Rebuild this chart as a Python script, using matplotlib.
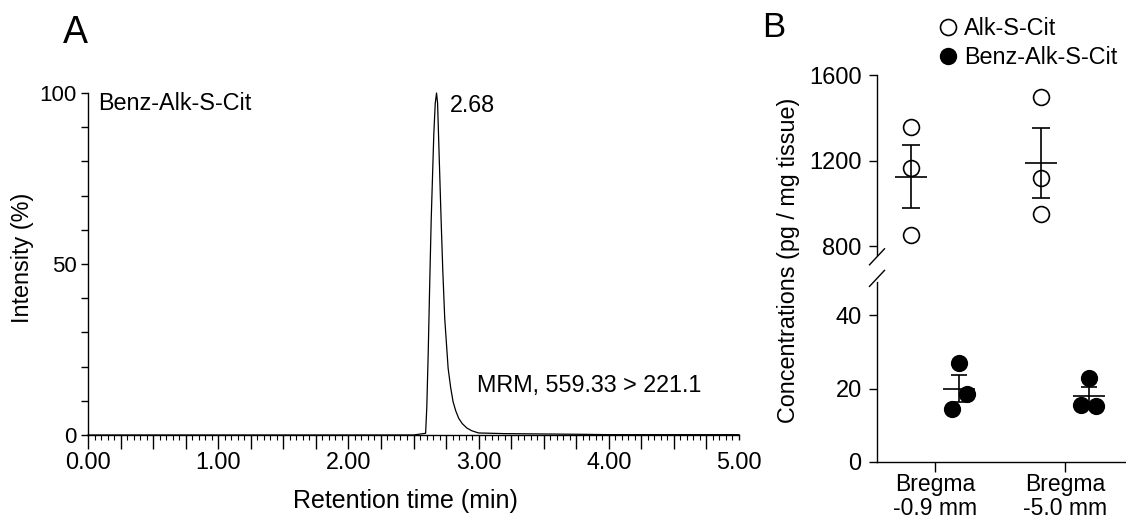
import numpy as np
import matplotlib
matplotlib.use('Agg')
import matplotlib.pyplot as plt
from matplotlib.ticker import FixedLocator, MultipleLocator, FuncFormatter
from matplotlib.lines import Line2D

plt.rcParams['font.family'] = ['Liberation Sans', 'DejaVu Sans']

# ---------------- Panel A data (chromatogram) ----------------
rt_min = [0.00, 2.50, 2.593, 2.602, 2.613, 2.625, 2.636, 2.656, 2.667, 2.677,
          2.685, 2.692, 2.700, 2.712, 2.725, 2.740, 2.766, 2.785, 2.804, 2.825,
          2.847, 2.875, 2.911, 2.950, 3.00, 3.20, 3.50, 3.80, 4.00, 5.00]
intensity_pct = [0, 0, 0.5, 8, 24, 45, 63, 88, 97, 100,
                 97, 88, 78, 63, 48, 34, 19.5, 14, 9.7, 7,
                 4.9, 3.3, 2.0, 1.2, 0.6, 0.4, 0.3, 0.2, 0.1, 0.1]
compound_a = 'Benz-Alk-S-Cit'
peak_label = '2.68'
mrm_label = 'MRM, 559.33 > 221.1'
x_label_a = 'Retention time (min)'
y_label_a = 'Intensity (%)'
y_ticks_a = [0, 50, 100]

# ---------------- Panel B data ----------------
groups = ['Bregma\n-0.9 mm', 'Bregma\n-5.0 mm']
series_names = ['Alk-S-Cit', 'Benz-Alk-S-Cit']
alk_s_cit = [[1357, 1165, 852], [1497, 1118, 950]]
benz_alk_s_cit = [[26.9, 14.4, 18.4], [22.9, 15.4, 15.3]]
upper_ticks = [800, 1200, 1600]
lower_ticks = [0, 20, 40]
y_label_b = 'Concentrations (pg / mg tissue)'

# ---------------- styling ----------------
W, H = 1126, 522
fig = plt.figure(figsize=(W / 100, H / 100), dpi=100)


def px(l, t, r, b):
    return [l / W, 1 - b / H, (r - l) / W, (b - t) / H]


LW = 1.0
TXT = 16.8

# ---------------- Panel A ----------------
axA = fig.add_axes(px(88, 93, 739, 435))
axA.plot(rt_min, intensity_pct, color='black', lw=0.9, clip_on=False, zorder=3)
axA.set_xlim(0, 5)
axA.set_ylim(0, 100)
for s in ['top', 'right']:
    axA.spines[s].set_visible(False)
for s in ['left', 'bottom']:
    axA.spines[s].set_linewidth(LW)

major_x = np.arange(0, 5.001, 0.25)
axA.xaxis.set_major_locator(FixedLocator(major_x))
axA.xaxis.set_minor_locator(MultipleLocator(0.05))
axA.xaxis.set_major_formatter(FuncFormatter(
    lambda v, p: f'{v:.2f}' if abs(v - round(v)) < 1e-6 else ''))
axA.tick_params(axis='x', which='major', length=10, width=LW, pad=1.5,
                labelsize=16.8, direction='out')
axA.tick_params(axis='x', which='minor', length=3.8, width=0.8, direction='out')
xt = axA.xaxis.get_major_ticks()
xt[-1].tick1line.set_markersize(3.8)

axA.yaxis.set_major_locator(FixedLocator(y_ticks_a))
axA.yaxis.set_minor_locator(MultipleLocator(10))
axA.tick_params(axis='y', which='both', length=5, width=LW, direction='out')
axA.tick_params(axis='y', which='major', labelsize=16, pad=3)

axA.text(0.076, 95.0, compound_a, fontsize=TXT, va='baseline', ha='left')
axA.text(2.78, 94.5, peak_label, fontsize=TXT, va='baseline', ha='left')
axA.text(2.985, 12.6, mrm_label, fontsize=TXT, va='baseline', ha='left')

fig.text(405 / W, 1 - 501 / H, x_label_a, fontsize=18, ha='center', va='center')
fig.text(22 / W, 1 - 258 / H, y_label_a, fontsize=16.8, ha='center', va='center',
         rotation=90)

fig.text(63 / W, 1 - 43 / H, 'A', fontsize=27, ha='left', va='baseline')
fig.text(762 / W, 1 - 37 / H, 'B', fontsize=25, ha='left', va='baseline')

# ---------------- Panel B ----------------
axU = fig.add_axes(px(877, 75, 1126, 255))
axL = fig.add_axes(px(877, 282, 1126, 462))
xlim_b = (-0.446, 1.469)
off = 0.185
jit_lower = [[0, -0.054, 0.062], [0, -0.062, 0.054]]
half_mean = 0.123

for ax in (axU, axL):
    ax.set_xlim(*xlim_b)
    for s in ['top', 'right']:
        ax.spines[s].set_visible(False)
    ax.spines['left'].set_linewidth(LW)
    ax.spines['bottom'].set_linewidth(LW)
    ax.tick_params(axis='y', length=6, width=LW, labelsize=17, pad=5)

axU.spines['bottom'].set_visible(False)
axU.set_xticks([])
axU.set_ylim(758, 1600)
axU.set_yticks(upper_ticks)
axU.set_yticklabels([str(t) for t in upper_ticks])

axL.set_ylim(0, 49)
axL.set_yticks(lower_ticks)
axL.set_yticklabels([str(t) for t in lower_ticks])
axL.set_xticks(range(len(groups)))
axL.set_xticklabels(groups)
axL.tick_params(axis='x', length=7, width=LW, labelsize=16.5, pad=1)
for lbl in axL.get_xticklabels():
    lbl.set_linespacing(1.05)

for i, vals in enumerate(alk_s_cit):
    x = i - off
    v = np.array(vals, dtype=float)
    m = v.mean()
    se = v.std(ddof=1) / np.sqrt(len(v))
    axU.scatter([x] * len(v), v, s=130, facecolors='white', edgecolors='black',
                linewidths=1.2, zorder=2, clip_on=False)
    axU.errorbar(x, m, yerr=se, fmt='none', ecolor='black', elinewidth=1.2,
                 capsize=6.5, capthick=1.2, zorder=3)
    axU.hlines(m, x - half_mean, x + half_mean, color='black', lw=1.2, zorder=3)

for i, vals in enumerate(benz_alk_s_cit):
    x = i + off
    v = np.array(vals, dtype=float)
    m = v.mean()
    se = v.std(ddof=1) / np.sqrt(len(v))
    axL.scatter(x + np.array(jit_lower[i]), v, s=130, facecolors='black',
                edgecolors='black', linewidths=1.0, zorder=2, clip_on=False)
    axL.errorbar(x, m, yerr=se, fmt='none', ecolor='black', elinewidth=1.2,
                 capsize=6, capthick=1.2, zorder=3)
    axL.hlines(m, x - half_mean, x + half_mean, color='black', lw=1.2, zorder=3)

# axis break marks
dx, dy = 7.5 / 249, 8 / 180
axU.plot([-dx, dx], [-dy - 0.01, dy - 0.01], transform=axU.transAxes, color='black',
         lw=LW, clip_on=False)
axL.plot([-dx, dx], [1 + 0.02 - dy, 1 + 0.02 + dy], transform=axL.transAxes,
         color='black', lw=LW, clip_on=False)

fig.text(789 / W, 1 - 260 / H, y_label_b, fontsize=16.8, ha='center', va='center',
         rotation=90)

handles = [Line2D([], [], marker='o', ls='none', mfc='white', mec='black', ms=11.5,
                  mew=1.2),
           Line2D([], [], marker='o', ls='none', mfc='black', mec='black', ms=11.5)]
fig.legend(handles, series_names, loc='upper left',
           bbox_to_anchor=(937.5 / W, 1 - 17 / H), frameon=False, fontsize=16.8,
           handlelength=0.9, handletextpad=0.25, labelspacing=0.25, borderpad=0,
           borderaxespad=0)

fig.savefig('out.png', dpi=100)
